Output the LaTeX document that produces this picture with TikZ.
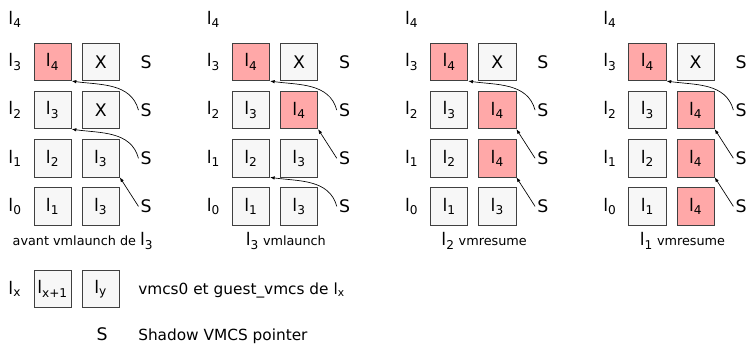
\documentclass[tikz,border=0pt]{standalone}
\usepackage{fontspec}
\setmainfont{DejaVu Sans}
\usetikzlibrary{arrows.meta,positioning}
\definecolor{boxgray}{HTML}{F7F7F7}
\definecolor{hotred}{HTML}{FFA8A8}
\definecolor{edgegray}{HTML}{404040}
\newcommand\lv[1]{l\textsubscript{#1}}
\tikzset{vbox/.style={draw=edgegray,fill=boxgray,line width=0.6pt,minimum size=28pt,inner sep=0pt}}
\tikzset{hot/.style={vbox,fill=hotred}}
\tikzset{lvl/.style={anchor=west,inner sep=0pt}}
\tikzset{sptr/.style={inner sep=1.5pt}}
\tikzset{ptr/.style={-{Latex[length=3.5pt,width=2.6pt]},line width=0.5pt}}
\tikzset{curv/.style={out=105,in=-8},strt/.style={}}
\tikzset{captxt/.style={font=\fontsize{9.6}{12}\selectfont}}

\begin{document}
\begin{tikzpicture}[x=0.75pt,y=0.75pt,node distance=7.5pt,font=\fontsize{13}{15}\selectfont]
  \useasboundingbox (0,0) rectangle (749,349);
  % one column of vmcs per step
  \foreach \k/\ox/\cb/\sb/\cc/\sc/\cd/\sd/\tc/\xc/\td/\xd in {
      1/0/X/vbox/\lv3/vbox/\lv3/vbox/a2/curv/b1/strt,
      2/198.3/\lv4/hot/\lv3/vbox/\lv3/vbox/b2/strt/a1/curv,
      3/396.6/\lv4/hot/\lv4/hot/\lv3/vbox/b2/strt/b1/strt,
      4/594.9/\lv4/hot/\lv4/hot/\lv4/hot/b2/strt/b1/strt}{
    \node[hot] (p\k-a3) at (\ox+52.6,287) {\lv4};
    \node[vbox] (p\k-b3) [right=of p\k-a3] {X};
    \node[vbox] (p\k-a2) [below=of p\k-a3] {\lv3};
    \node[\sb] (p\k-b2) [right=of p\k-a2] {\cb};
    \node[vbox] (p\k-a1) [below=of p\k-a2] {\lv2};
    \node[\sc] (p\k-b1) [right=of p\k-a1] {\cc};
    \node[vbox] (p\k-a0) [below=of p\k-a1] {\lv1};
    \node[\sd] (p\k-b0) [right=of p\k-a0] {\cd};
    \node[lvl] (p\k-l4) at ([xshift=-19pt,yshift=32pt]p\k-a3.west) {\lv4};
    \foreach \r in {3,2,1,0}{
      \node[lvl] (p\k-l\r) at ([xshift=-19pt]p\k-a\r.west) {\lv\r};
      \node[sptr] (p\k-s\r) [right=14pt of p\k-b\r] {S};
    }
    \draw[ptr] (p\k-s2.west) to[curv] (p\k-a3.south east);
    \draw[ptr] (p\k-s1.west) to[\xc] (p\k-\tc.south east);
    \draw[ptr] (p\k-s0.west) to[\xd] (p\k-\td.south east);
  }
  \node[captxt,anchor=west] (cap1) at (8,108) {avant vmlaunch de {\fontsize{13}{15}\selectfont\lv3}};
  \node[captxt] (cap2) at (285.8,108) {{\fontsize{13}{15}\selectfont\lv3} vmlaunch};
  \node[captxt] (cap3) at (484.1,108) {{\fontsize{13}{15}\selectfont\lv2} vmresume};
  \node[captxt] (cap4) at (682.4,108) {{\fontsize{13}{15}\selectfont\lv1} vmresume};
  % legend
  \node[vbox] (lx1) at (52.6,60) {\lv{x+1}};
  \node[vbox] (ly) [right=of lx1] {\lv{y}};
  \node[lvl] (lx) at ([xshift=-19pt]lx1.west) {\lv{x}};
  \node[anchor=base west,inner sep=0pt,font=\fontsize{11.5}{14}\selectfont] (ltxt) at (138,54.7) {vmcs0 et guest\_vmcs de \lv{x}};
  \node[anchor=base,inner sep=0pt] (ls) at (102,8) {S};
  \node[anchor=base west,inner sep=0pt,font=\fontsize{11.5}{14}\selectfont] (lstxt) at (138,8) {Shadow VMCS pointer};
\end{tikzpicture}
\end{document}
